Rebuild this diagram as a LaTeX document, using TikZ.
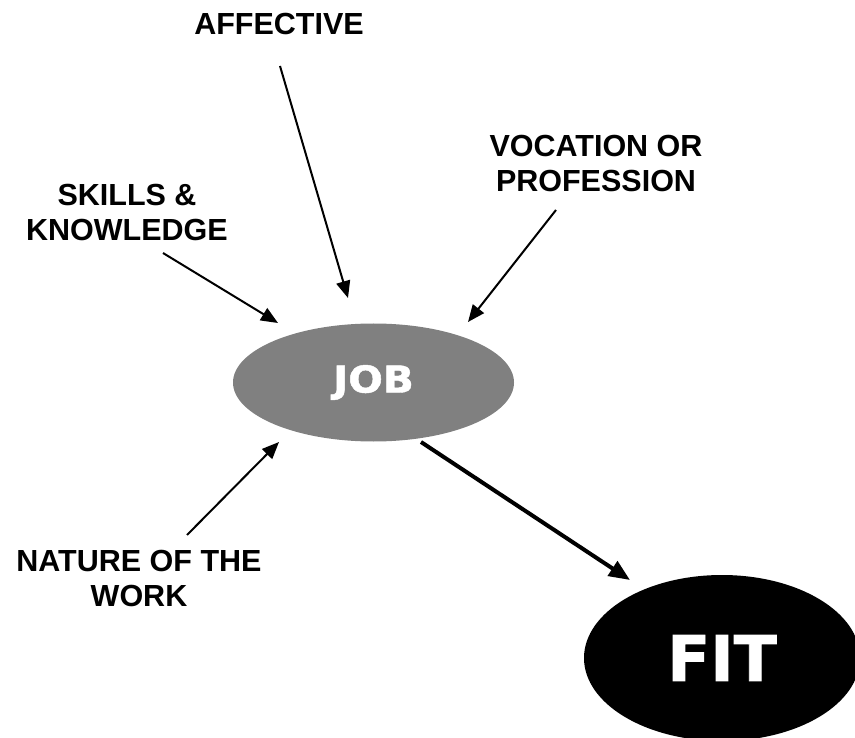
\documentclass[tikz,border=0pt]{standalone}
\usepackage{fontspec}
\setmainfont{Liberation Sans}
\newfontfamily\vfont{DejaVu Sans}[BoldFeatures={FakeBold=1.2}]
\usetikzlibrary{arrows.meta,shapes.geometric}
\definecolor{jobgray}{HTML}{808080}
\begin{document}
\begin{tikzpicture}[x=1pt,y=-1pt,
  lbl/.style={font=\bfseries\fontsize{30.5}{35}\selectfont, align=center, inner sep=0pt},
  arr/.style={line width=2pt, -{Triangle[length=17pt,width=14pt]}},
  bigarr/.style={line width=4pt, -{Triangle[length=21pt,width=17pt]}},
  oval/.style={ellipse, inner sep=0pt, text=white}]
\clip (0,0) rectangle (855,738);
% ovals
\node[oval, fill=jobgray, minimum width=281pt, minimum height=118pt,
      font=\vfont\bfseries\fontsize{37}{40}\selectfont] (job) at (373.5,382.5) {\scalebox{1.1}[1]{JOB}};
\node[oval, fill=black, minimum width=276pt, minimum height=166pt,
      font=\vfont\bfseries\fontsize{63}{70}\selectfont] (fit) at (722,658) {FIT};
% labels
\node[lbl] (aff) at (279,24.5) {AFFECTIVE};
\node[lbl] (skl) at (127,213) {SKILLS \&\\KNOWLEDGE};
\node[lbl] (voc) at (596,164) {VOCATION OR\\PROFESSION};
\node[lbl] (nat) at (139,578) {NATURE OF THE\\WORK};
% connector ends
\coordinate (affS) at (280,66);  \coordinate (affT) at (348,298);
\coordinate (sklS) at (163,253); \coordinate (sklT) at (278,323);
\coordinate (vocS) at (556,210); \coordinate (vocT) at (468,322);
\coordinate (natS) at (187,535); \coordinate (natT) at (279,442);
\coordinate (fitS) at (421,442); \coordinate (fitT) at (630,580);
% connectors
\draw[arr] (affS) -- (affT);
\draw[arr] (sklS) -- (sklT);
\draw[arr] (vocS) -- (vocT);
\draw[arr] (natS) -- (natT);
\draw[bigarr] (fitS) -- (fitT);
\end{tikzpicture}
\end{document}
